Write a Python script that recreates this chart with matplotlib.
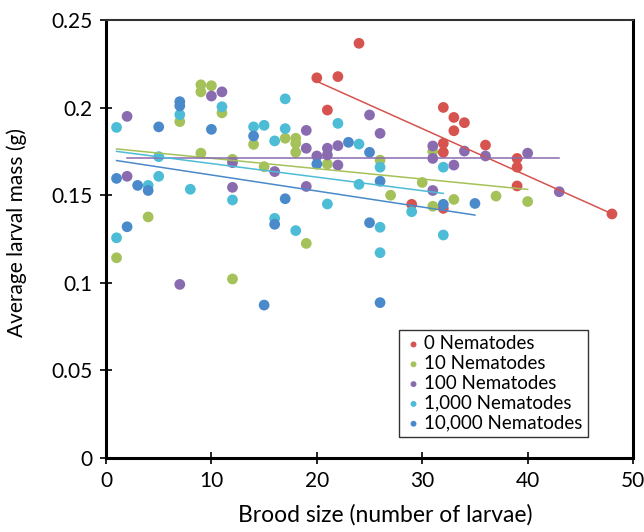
import matplotlib
matplotlib.use("Agg")
import matplotlib.pyplot as plt
from matplotlib.ticker import FuncFormatter, MultipleLocator
import numpy as np

plt.rcParams['font.family'] = ['Lato', 'DejaVu Sans']

labels = ["0 Nematodes", "10 Nematodes", "100 Nematodes", "1,000 Nematodes", "10,000 Nematodes"]
colors = ["#D6534F", "#A5C25A", "#8A6BB0", "#4DBCD6", "#4A8ACB"]

x0 = [20, 21, 22, 24, 29, 32, 32, 32, 32, 33, 33, 34, 36, 39, 39, 39, 48]
y0 = [0.217, 0.1986, 0.2177, 0.2367, 0.1448, 0.2001, 0.1796, 0.1745, 0.1425,
      0.1944, 0.1868, 0.1914, 0.1786, 0.171, 0.166, 0.1553, 0.1393]

x10 = [1, 4, 7, 9, 9, 9, 10, 11, 12, 12, 14, 15, 17, 18, 18, 18, 19, 21, 26,
       27, 30, 31, 31, 33, 37, 40]
y10 = [0.1143, 0.1376, 0.192, 0.213, 0.209, 0.174, 0.2125, 0.197, 0.1705, 0.1022,
       0.179, 0.1663, 0.1825, 0.1825, 0.1796, 0.1745, 0.1225, 0.1678, 0.17,
       0.15, 0.1573, 0.175, 0.1437, 0.1476, 0.1495, 0.1464]

x100 = [2, 2, 7, 10, 11, 12, 12, 16, 19, 19, 19, 20, 21, 21, 22, 22, 25, 26,
        31, 31, 31, 33, 34, 36, 40, 43]
y100 = [0.195, 0.1608, 0.0991, 0.2066, 0.209, 0.1686, 0.1545, 0.1635, 0.187,
        0.1768, 0.155, 0.1724, 0.1768, 0.173, 0.1783, 0.1672, 0.1958, 0.1853,
        0.1781, 0.171, 0.1527, 0.1672, 0.1752, 0.1724, 0.174, 0.152]

x1000 = [1, 1, 4, 5, 5, 7, 8, 11, 12, 14, 15, 16, 16, 17, 17, 18, 21, 22, 24,
         24, 26, 26, 26, 29, 32, 32]
y1000 = [0.1887, 0.1257, 0.1556, 0.172, 0.1608, 0.196, 0.1534, 0.2005, 0.1473,
         0.189, 0.1899, 0.181, 0.1368, 0.205, 0.188, 0.1298, 0.145, 0.191,
         0.1792, 0.1562, 0.166, 0.1317, 0.1172, 0.1406, 0.166, 0.1273]

x10000 = [1, 2, 3, 4, 5, 7, 7, 10, 14, 15, 16, 17, 20, 23, 25, 25, 26, 26, 32, 35]
y10000 = [0.1596, 0.132, 0.1556, 0.1527, 0.189, 0.2034, 0.201, 0.1876, 0.1838,
          0.0873, 0.1334, 0.148, 0.1678, 0.1802, 0.1745, 0.1343, 0.158, 0.0887,
          0.1448, 0.1453]

# linear trendlines (slope, intercept)
trend_slope = [-0.0027, -0.000592, 0.0, -0.000774, -0.000915]
trend_icpt = [0.269, 0.177, 0.1712, 0.1758, 0.1707]

xs = [x0, x10, x100, x1000, x10000]
ys = [y0, y10, y100, y1000, y10000]

fig = plt.figure(figsize=(6.44, 5.32), dpi=100)
ax = fig.add_axes([0.1646, 0.139, 0.8184, 0.8234])

for i in range(len(xs)):
    ax.scatter(xs[i], ys[i], s=60, color=colors[i], edgecolors='none',
               label=labels[i], zorder=3)

for i in range(len(xs)):
    tx = np.array([min(xs[i]), max(xs[i])])
    ax.plot(tx, trend_icpt[i] + trend_slope[i] * tx, color=colors[i],
            lw=1.1, zorder=4)

ax.set_xlim(0, 50)
ax.set_ylim(0, 0.25)
ax.xaxis.set_major_locator(MultipleLocator(10))
ax.yaxis.set_major_locator(MultipleLocator(0.05))
ax.yaxis.set_major_formatter(FuncFormatter(lambda v, p: "%g" % round(v, 3)))

ax.spines['left'].set_linewidth(2.2)
ax.spines['bottom'].set_linewidth(2.2)
ax.spines['right'].set_linewidth(2.2)
ax.spines['top'].set_linewidth(1.5)
ax.spines['top'].set_color('#333333')
ax.tick_params(direction='inout', length=9, width=1.2, labelsize=15,
               colors='black', pad=5)

ax.set_xlabel("Brood size (number of larvae)", fontsize=16.5)
ax.xaxis.set_label_coords(0.53, -0.105)
ax.set_ylabel("Average larval mass (g)", fontsize=15)
ax.yaxis.set_label_coords(-0.15, 0.515)

leg = ax.legend(loc='lower right', bbox_to_anchor=(0.932, 0.026), fontsize=13.5,
                frameon=True, fancybox=False, edgecolor='black',
                handletextpad=0.05, handlelength=1.0, borderpad=0.3,
                labelspacing=0.15, markerscale=0.55)
leg.get_frame().set_linewidth(1.0)

plt.savefig("out.png", dpi=100)
